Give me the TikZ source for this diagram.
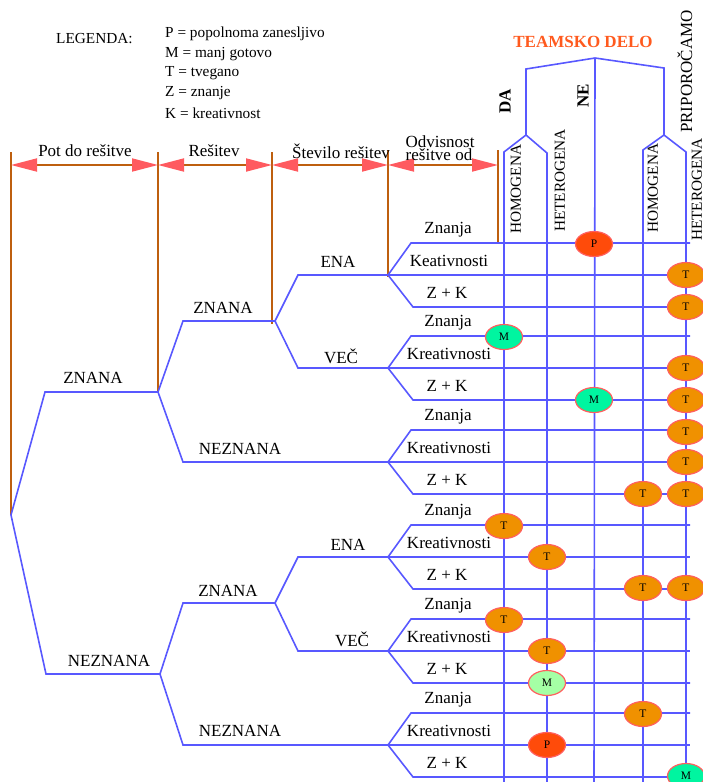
\documentclass[tikz,border=0pt]{standalone}
\usepackage{fontspec}
\setmainfont{Liberation Serif}
\usetikzlibrary{arrows.meta,shapes.geometric}
\definecolor{treeblue}{RGB}{88,88,255}
\definecolor{dimbrown}{RGB}{190,95,15}
\definecolor{tipred}{RGB}{255,90,95}
\definecolor{headorange}{RGB}{255,90,30}
\definecolor{pfill}{RGB}{255,75,10}
\definecolor{tfill}{RGB}{240,145,0}
\definecolor{mfill}{RGB}{0,245,160}
\definecolor{mlight}{RGB}{165,255,165}
\definecolor{rimred}{RGB}{255,95,95}
\tikzset{
  branch/.style={draw=treeblue, line width=1.6pt},
  tick/.style={draw=dimbrown, line width=1.8pt},
  dimline/.style={draw=dimbrown, line width=1.8pt,
    {Triangle[length=26pt,width=13pt,color=tipred]}-{Triangle[length=26pt,width=13pt,color=tipred]}},
  lbl/.style={font=\fontsize{17}{17}\selectfont, inner sep=0pt},
  small/.style={font=\fontsize{15.3}{15.3}\selectfont, inner sep=0pt},
  collbl/.style={small, rotate=90, anchor=west},
  rating/.style={ellipse, draw=rimred, line width=1.2pt, minimum width=37pt,
    minimum height=25pt, inner sep=0pt, font=\fontsize{11.5}{11.5}\selectfont},
  rP/.style={rating, fill=pfill},
  rT/.style={rating, fill=tfill},
  rM/.style={rating, fill=mfill},
  rMl/.style={rating, fill=mlight}
}
\begin{document}
\begin{tikzpicture}[x=1pt,y=-1pt]
\useasboundingbox (0,0) rectangle (703,782);

% legend
\node[small, anchor=west] (leg) at (56,39) {LEGENDA:};
\node[small, anchor=west] (legP) at (165,34) {P = popolnoma zanesljivo};
\node[small, anchor=west] (legM) at (165,54) {M = manj gotovo};
\node[small, anchor=west] (legT) at (165,73) {T = tvegano};
\node[small, anchor=west] (legZ) at (165,93) {Z = znanje};
\node[small, anchor=west] (legK) at (165,113) {K = kreativnost};

% dimension bar with its ticks
\coordinate (d0) at (11,165);
\coordinate (d1) at (158,165);
\coordinate (d2) at (272,165);
\coordinate (d3) at (388,165);
\coordinate (d4) at (498,165);
\coordinate (t0a) at (11,152);  \coordinate (t0b) at (11,515);
\coordinate (t1a) at (158,152); \coordinate (t1b) at (158,392);
\coordinate (t2a) at (272,152); \coordinate (t2b) at (272,324);
\coordinate (t3a) at (388,150); \coordinate (t3b) at (388,277);
\coordinate (t4a) at (498,150); \coordinate (t4b) at (498,244);
\foreach \i in {0,...,4} { \draw[tick] (t\i a) -- (t\i b); }
\draw[dimline] (d0) -- (d1);
\draw[dimline] (d1) -- (d2);
\draw[dimline] (d2) -- (d3);
\draw[dimline] (d3) -- (d4);
\node[lbl] (hpot) at (85,151) {Pot do rešitve};
\node[lbl] (hres) at (214,151) {Rešitev};
\node[lbl] (hstev) at (341,151) {Število rešitev};
\node[lbl] (hodv1) at (440,142) {Odvisnost};
\node[lbl] (hodv2) at (439,155) {rešitve od};

% decision tree
\coordinate (root) at (11,515);
\coordinate (k1) at (45,392);  \coordinate (n1) at (158,392);
\coordinate (k2) at (46,674);  \coordinate (n2) at (160,674);
\draw[branch] (root) -- (k1) -- (n1);
\draw[branch] (root) -- (k2) -- (n2);
\node[lbl] (l1a) at (93,378) {ZNANA};
\node[lbl] (l1b) at (109,661) {NEZNANA};

\coordinate (k11) at (183,321); \coordinate (n11) at (275,321);
\coordinate (k12) at (183,462); \coordinate (n12) at (388,462);
\draw[branch] (n1) -- (k11) -- (n11);
\draw[branch] (n1) -- (k12) -- (n12);
\node[lbl] (l11) at (223,308) {ZNANA};
\node[lbl] (l12) at (240,449) {NEZNANA};

\coordinate (k21) at (183,603); \coordinate (n21) at (275,603);
\coordinate (k22) at (183,745); \coordinate (n22) at (388,745);
\draw[branch] (n2) -- (k21) -- (n21);
\draw[branch] (n2) -- (k22) -- (n22);
\node[lbl] (l21) at (228,591) {ZNANA};
\node[lbl] (l22) at (240,731) {NEZNANA};

\coordinate (k111) at (298,275); \coordinate (n111) at (388,275);
\coordinate (k112) at (298,368); \coordinate (n112) at (388,368);
\draw[branch] (n11) -- (k111) -- (n111);
\draw[branch] (n11) -- (k112) -- (n112);
\node[lbl] (l111) at (338,262) {ENA};
\node[lbl] (l112) at (341,356) {VEČ};

\coordinate (k211) at (298,557); \coordinate (n211) at (388,557);
\coordinate (k212) at (298,651); \coordinate (n212) at (388,651);
\draw[branch] (n21) -- (k211) -- (n211);
\draw[branch] (n21) -- (k212) -- (n212);
\node[lbl] (l211) at (348,545) {ENA};
\node[lbl] (l212) at (352,639) {VEČ};

% last level: three rows per group, running across the table
\foreach \g/\y/\kr in {1/275/Keativnosti,2/368/Kreativnosti,3/462/Kreativnosti,
                       4/557/Kreativnosti,5/651/Kreativnosti,6/745/Kreativnosti} {
  \coordinate (g\g) at (388,\y);
  \coordinate (g\g ua) at (411,\y-32);  \coordinate (g\g ub) at (690,\y-32);
  \coordinate (g\g m) at (690,\y);
  \coordinate (g\g da) at (413,\y+32);  \coordinate (g\g db) at (690,\y+32);
  \draw[branch] (g\g) -- (g\g ua) -- (g\g ub);
  \draw[branch] (g\g) -- (g\g m);
  \draw[branch] (g\g) -- (g\g da) -- (g\g db);
  \node[lbl] (rz\g) at (448,\y-45) {Znanja};
  \node[lbl] (rk\g) at (449,\y-14) {\kr};
  \node[lbl] (rzk\g) at (447,\y+18) {Z + K};
}

% team work header
\node[lbl, font=\fontsize{17}{17}\selectfont\bfseries, text=headorange] (team) at (583,42) {TEAMSKO DELO};
\coordinate (bl) at (526,69);
\coordinate (bm) at (595,58);
\coordinate (br) at (664,68);
\coordinate (fl) at (526,135);
\coordinate (fr) at (664,135);
\draw[branch] (fl) -- (bl) -- (bm) -- (br) -- (fr);
\coordinate (c1) at (504,152); \coordinate (c1e) at (504,782);
\coordinate (c2) at (547,153); \coordinate (c2e) at (547,782);
\coordinate (c3e) at (594,782);
\coordinate (c4) at (643,150); \coordinate (c4e) at (643,782);
\coordinate (c5) at (686,152); \coordinate (c5e) at (686,782);
\draw[branch] (fl) -- (c1) -- (c1e);
\draw[branch] (fl) -- (c2) -- (c2e);
\draw[branch] (bm) -- (c3e);
\draw[branch] (fr) -- (c4) -- (c4e);
\draw[branch] (fr) -- (c5) -- (c5e);
\node[lbl, font=\fontsize{17}{17}\selectfont\bfseries, rotate=90] (da) at (505,101) {DA};
\node[lbl, font=\fontsize{17}{17}\selectfont\bfseries, rotate=90] (ne) at (583,96) {NE};
\node[lbl, rotate=90, anchor=west] (prip) at (685,133) {PRIPOROČAMO};
\node[collbl] (hom1) at (516,234) {HOMOGENA};
\node[collbl] (het1) at (560,232) {HETEROGENA};
\node[collbl] (hom2) at (653,233) {HOMOGENA};
\node[collbl] (het2) at (697,241) {HETEROGENA};

% ratings
\node[rP] (e01) at (594,244) {P};
\node[rT] (e02) at (686,275) {T};
\node[rT] (e03) at (686,307) {T};
\node[rM] (e04) at (504,337) {M};
\node[rT] (e05) at (686,368) {T};
\node[rM] (e06) at (594,400) {M};
\node[rT] (e07) at (686,400) {T};
\node[rT] (e08) at (686,432) {T};
\node[rT] (e09) at (686,462) {T};
\node[rT] (e10) at (643,494) {T};
\node[rT] (e11) at (686,494) {T};
\node[rT] (e12) at (504,526) {T};
\node[rT] (e13) at (547,557) {T};
\node[rT] (e14) at (643,588) {T};
\node[rT] (e15) at (686,588) {T};
\node[rT] (e16) at (504,620) {T};
\node[rT] (e17) at (547,651) {T};
\node[rMl] (e18) at (547,683) {M};
\node[rT] (e19) at (643,714) {T};
\node[rP] (e20) at (547,745) {P};
\node[rM] (e21) at (686,776) {M};
\end{tikzpicture}
\end{document}
